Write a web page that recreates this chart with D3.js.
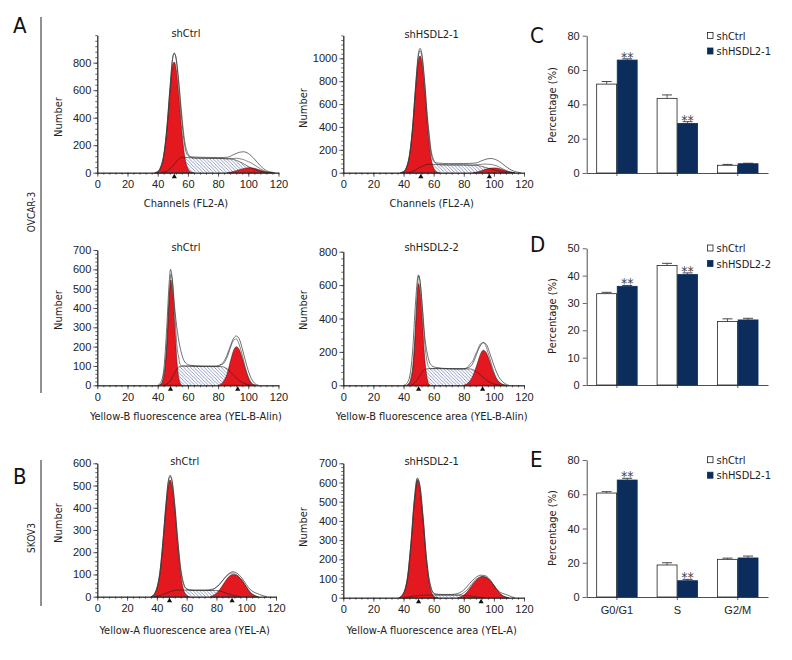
<!DOCTYPE html>
<html><head><meta charset="utf-8">
<script src="https://cdn.jsdelivr.net/npm/d3@7"></script>
<style>
body{margin:0;background:#fff}
svg{font-family:"Liberation Sans Narrow","DejaVu Sans Condensed","Roboto Condensed",sans-serif;font-stretch:condensed}
</style></head><body>
<svg id="fig" width="792" height="660"></svg>
<script>
// ---------- histogram data: [channel, count] ----------
const h1G1 = [[38,0],[40,6],[42,38],[44,120],[46,300],[48,560],[50,790],[51,805],[52,770],[54,560],[56,300],[58,110],[60,30],[62,5],[64,0]];
const h1S  = [[42,0],[46,10],[50,50],[54,100],[56,112],[58,112],[62,108],[70,105],[80,104],[88,100],[92,90],[96,70],[100,45],[104,25],[108,10],[112,2],[116,0]];
const h1G2 = [[86,0],[90,8],[94,22],[98,33],[101,36],[104,32],[108,18],[112,5],[116,0]];
const h1Env = [[38,0],[40,8],[42,45],[44,130],[46,320],[48,600],[50,840],[51,870],[52,840],[54,640],[56,380],[58,190],[60,125],[62,115],[70,112],[80,110],[86,112],[90,130],[94,148],[97,152],[100,140],[104,100],[108,50],[112,15],[116,3],[118,0]];
const h1Marks = [51];

const h2G1 = [[38,0],[40,8],[42,45],[44,150],[46,380],[48,720],[50,990],[51,1020],[52,980],[54,720],[56,390],[58,150],[60,40],[62,6],[64,0]];
const h2S  = [[42,0],[46,10],[50,40],[54,65],[57,75],[60,72],[70,68],[80,68],[88,65],[92,55],[96,40],[100,25],[104,12],[108,4],[112,0]];
const h2G2 = [[86,0],[90,10],[94,28],[98,40],[100,42],[103,38],[106,25],[110,8],[114,0]];
const h2Env = [[38,0],[40,10],[42,50],[44,160],[46,400],[48,760],[50,1050],[51,1087],[52,1050],[54,800],[56,450],[58,200],[60,100],[62,85],[70,80],[80,80],[88,85],[92,105],[96,122],[98,124],[102,110],[106,75],[110,35],[114,10],[118,0]];
const h2Marks = [51.5, 97];

const h3G1 = [[41,0],[43,15],[45,100],[46.5,270],[47.5,430],[48.7,545],[50,470],[51.5,280],[53,100],[54.5,20],[56,0]];
const h3S  = [[44,0],[48,20],[51,60],[54,95],[57,100],[65,98],[75,97],[82,97],[86,85],[90,55],[94,25],[98,8],[102,0]];
const h3G2 = [[80,0],[83,15],[86,60],[88,120],[90,175],[92,200],[94,185],[96,140],[98,85],[100,40],[102,12],[105,0]];
const h3Env = [[40,0],[42,15],[44,80],[46,300],[47.5,520],[48.5,600],[49.5,560],[51,420],[53,280],[55,190],[57,135],[59,112],[62,103],[70,100],[78,100],[82,108],[85,140],[88,200],[90,240],[92,255],[94,240],[96,190],[98,130],[100,75],[102,35],[104,12],[107,0]];
const h3Marks = [48.5, 93];

const h4G1 = [[42,0],[44,15],[46,90],[47.5,260],[48.8,480],[50,610],[51,560],[52.5,380],[54,170],[55.5,50],[57,5],[58,0]];
const h4S  = [[45,0],[48,20],[51,60],[54,95],[57,100],[65,100],[75,98],[84,98],[88,85],[92,55],[96,25],[100,8],[104,0]];
const h4G2 = [[80,0],[83,15],[86,55],[89,130],[91,185],[93,210],[95,195],[97,150],[99,95],[101,50],[104,15],[108,0]];
const h4Env = [[40,0],[42,10],[44,50],[46,200],[48,500],[49.5,650],[50,660],[51,620],[52.5,470],[54,300],[56,180],[58,125],[61,108],[70,100],[80,100],[84,110],[87,150],[90,220],[93,255],[95,245],[97,200],[100,120],[103,55],[106,20],[110,0]];
const h4Marks = [50, 92.5];

const h5G1 = [[36,0],[38,8],[40,35],[42,100],[44,230],[46,390],[48,510],[48.8,525],[50,505],[52,390],[54,230],[56,100],[58,30],[60,5],[62,0]];
const h5S  = [[38,0],[42,5],[46,15],[50,25],[54,30],[58,30],[66,28],[74,28],[80,28],[84,22],[88,12],[92,5],[96,0]];
const h5G2 = [[76,0],[79,10],[82,30],[85,60],[88,88],[91,100],[94,95],[97,75],[100,45],[103,18],[106,4],[108,0]];
const h5Env = [[36,0],[38,10],[40,40],[42,110],[44,245],[46,410],[48,530],[49,540],[50,525],[52,410],[54,250],[56,120],[58,55],[60,35],[64,30],[72,30],[78,35],[82,55],[85,80],[88,102],[91,112],[94,105],[97,85],[100,55],[103,30],[106,18],[109,10],[112,3],[114,0]];
const h5Marks = [48.5, 90.5];

const h6G1 = [[37,0],[39,10],[41,40],[43,120],[45,280],[47,480],[49,610],[49.3,613],[51,560],[53,400],[55,210],[57,80],[59,20],[61,3],[63,0]];
const h6S  = [[40,0],[44,5],[48,10],[52,13],[58,14],[66,14],[74,14],[80,12],[85,8],[90,3],[94,0]];
const h6G2 = [[76,0],[79,8],[82,28],[85,60],[88,90],[91,107],[93,110],[96,100],[99,75],[102,42],[105,15],[108,3],[110,0]];
const h6Env = [[37,0],[39,12],[41,45],[43,130],[45,295],[47,500],[49,620],[51,580],[53,420],[55,225],[57,95],[59,35],[61,20],[66,17],[72,17],[76,22],[80,40],[84,75],[88,105],[91,117],[94,115],[97,98],[100,65],[103,35],[106,22],[109,14],[112,4],[114,0]];
const h6Marks = [50, 91.5];

const histTitles = ["shCtrl","shHSDL2-1","shCtrl","shHSDL2-2","shCtrl","shHSDL2-1"];
const histXLabels = ["Channels (FL2-A)","Yellow-B fluorescence area (YEL-B-Alin)","Yellow-A fluorescence area (YEL-A)"];
const xTicks = [0,20,40,60,80,100,120];

// ---------- bar chart data ----------
const categories = ["G0/G1","S","G2/M"];
const cCtrl = [51.8, 43.5, 4.5],  cCtrlErr = [1.5, 2.0, 0.5];
const cSh   = [65.8, 28.9, 5.4],  cShErr   = [0.7, 1.0, 0.3];
const dCtrl = [33.4, 43.7, 23.2], dCtrlErr = [0.5, 0.8, 1.0];
const dSh   = [36.1, 40.4, 23.8], dShErr   = [0.3, 0.6, 0.6];
const eCtrl = [60.7, 18.7, 22.0], eCtrlErr = [0.8, 1.3, 0.7];
const eSh   = [68.3, 9.5, 22.8],  eShErr   = [1.0, 0.8, 1.1];
const starsC = [true, true, false], starsD = [true, true, false], starsE = [true, true, false];

// ---------- drawing ----------
const RED = "#e3191f", NAVY = "#0c2d5b", INK = "#222";
const svg = d3.select("#fig");
const defs = svg.append("defs");
const hp = defs.append("pattern").attr("id","hatch").attr("patternUnits","userSpaceOnUse")
  .attr("width",3.4).attr("height",3.4);
hp.append("rect").attr("width",3.4).attr("height",3.4).attr("fill","#fff");
hp.append("path").attr("d","M-1,-1L4.4,4.4M-1,2.4L1,4.4M2.4,-1L4.4,1")
  .attr("stroke","#4b5a9e").attr("stroke-width",0.6);

function interp(arr, xv){
  if (xv <= arr[0][0] || xv >= arr[arr.length-1][0]) return 0;
  for (let i=1;i<arr.length;i++){
    if (xv <= arr[i][0]){
      const [x0,y0]=arr[i-1],[x1,y1]=arr[i];
      return y0 + (y1-y0)*(xv-x0)/(x1-x0);
    }
  }
  return 0;
}

function hist(o){
  const x = d3.scaleLinear().domain([0,120]).range([o.x0,o.x1]);
  const y = d3.scaleLinear().domain([0,o.yMax]).range([o.y0,o.yTop]);
  const g = svg.append("g");
  const area = d3.area().x(d=>x(d[0])).y0(y(0)).y1(d=>y(d[1])).curve(d3.curveMonotoneX);
  const line = d3.line().x(d=>x(d[0])).y(d=>y(d[1])).curve(d3.curveMonotoneX);
  const xs = Array.from(new Set([...o.g1,...o.s,...o.g2].map(d=>d[0]))).sort((a,b)=>a-b);
  const fit = xs.map(v=>[v, interp(o.g1,v)+interp(o.s,v)+interp(o.g2,v)]);

  g.append("path").datum(o.s).attr("d",area).attr("fill","url(#hatch)");
  g.append("path").datum(o.g1).attr("d",area).attr("fill",RED).attr("stroke","#3a0a0a").attr("stroke-width",0.5);
  g.append("path").datum(o.g2).attr("d",area).attr("fill",RED).attr("stroke","#3a0a0a").attr("stroke-width",0.5);
  g.append("path").datum(o.s).attr("d",line).attr("fill","none").attr("stroke","#222").attr("stroke-width",0.6);
  g.append("path").datum(fit).attr("d",line).attr("fill","none").attr("stroke","#333").attr("stroke-width",0.6);
  g.append("path").datum(o.env).attr("d",line).attr("fill","none").attr("stroke","#333").attr("stroke-width",0.7);

  const minorX = d3.range(0,121,4);
  g.append("g").attr("transform",`translate(0,${o.y0})`)
    .call(d3.axisBottom(x).tickValues(minorX).tickSize(2).tickSizeOuter(0).tickFormat(""));
  g.append("g").attr("transform",`translate(0,${o.y0})`)
    .call(d3.axisBottom(x).tickValues(xTicks).tickSize(4).tickSizeOuter(0).tickPadding(4).tickFormat(d3.format("d")));
  const minorY = d3.range(0,o.yMax+0.1,o.minor);
  g.append("g").attr("transform",`translate(${o.x0},0)`)
    .call(d3.axisLeft(y).tickValues(minorY).tickSize(2).tickSizeOuter(0).tickFormat(""));
  g.append("g").attr("transform",`translate(${o.x0},0)`)
    .call(d3.axisLeft(y).tickValues(d3.range(0,o.yLabMax+0.1,o.step)).tickSize(4).tickSizeOuter(0).tickPadding(2).tickFormat(d3.format("d")));
  g.selectAll(".domain").attr("stroke",INK).attr("stroke-width",0.8);
  g.selectAll(".tick line").attr("stroke",INK).attr("stroke-width",0.7);
  g.selectAll(".tick text").attr("font-size",11).attr("fill",INK).attr("font-family",null);

  g.selectAll("path.mk").data(o.marks).join("path").attr("class","mk")
    .attr("d", d=>{const cx=x(d), cy=o.y0+1; return `M${cx-2.6},${cy+4.5}L${cx+2.6},${cy+4.5}L${cx},${cy}Z`;})
    .attr("fill","#111");

  g.append("text").attr("x",(o.x0+o.x1)/2 - 2).attr("y",o.titleY).attr("text-anchor","middle")
    .attr("font-size",11).attr("fill",INK).text(o.title);
  g.append("text").attr("x",(o.x0+o.x1)/2 - 2).attr("y",o.xLabY).attr("text-anchor","middle")
    .attr("font-size",11).attr("fill",INK).text(o.xlabel);
  g.append("text").attr("transform",`translate(${o.yLabX},${o.yLabCY}) rotate(-90)`)
    .attr("text-anchor","middle").attr("font-size",11).attr("fill",INK).text("Number");
}

const L = [97.3, 278.5], R = [343.3, 524];
hist({x0:L[0],x1:L[1],y0:172.7,yTop:35.2,yMax:1000,yLabMax:800,step:200,minor:40,
  g1:h1G1,s:h1S,g2:h1G2,env:h1Env,marks:h1Marks,title:histTitles[0],titleY:37,xlabel:histXLabels[0],xLabY:207,yLabX:62,yLabCY:117});
hist({x0:R[0],x1:R[1],y0:172.7,yTop:35.4,yMax:1200,yLabMax:1000,step:200,minor:40,
  g1:h2G1,s:h2S,g2:h2G2,env:h2Env,marks:h2Marks,title:histTitles[1],titleY:38,xlabel:histXLabels[0],xLabY:207,yLabX:307,yLabCY:108});
hist({x0:L[0],x1:L[1],y0:385.3,yTop:250,yMax:700,yLabMax:700,step:100,minor:20,
  g1:h3G1,s:h3S,g2:h3G2,env:h3Env,marks:h3Marks,title:histTitles[2],titleY:251,xlabel:histXLabels[1],xLabY:420,yLabX:62,yLabCY:310});
hist({x0:R[0],x1:R[1],y0:385.3,yTop:251.7,yMax:800,yLabMax:800,step:200,minor:40,
  g1:h4G1,s:h4S,g2:h4G2,env:h4Env,marks:h4Marks,title:histTitles[3],titleY:251,xlabel:histXLabels[1],xLabY:420,yLabX:307,yLabCY:310});
hist({x0:L[0],x1:L[1]-2.5,y0:596.7,yTop:463.3,yMax:600,yLabMax:600,step:100,minor:20,
  g1:h5G1,s:h5S,g2:h5G2,env:h5Env,marks:h5Marks,title:histTitles[4],titleY:465,xlabel:histXLabels[2],xLabY:634,yLabX:62,yLabCY:523});
hist({x0:R[0],x1:R[1],y0:597.7,yTop:463.3,yMax:700,yLabMax:700,step:100,minor:20,
  g1:h6G1,s:h6S,g2:h6G2,env:h6Env,marks:h6Marks,title:histTitles[5],titleY:465,xlabel:histXLabels[2],xLabY:634,yLabX:307,yLabCY:527});

function bars(o){
  const x = d3.scaleBand().domain(categories).range([586.7,768]).paddingInner(0.33).paddingOuter(0.165);
  const sub = d3.scaleBand().domain([0,1]).range([0,x.bandwidth()]).paddingInner(0.03);
  const y = d3.scaleLinear().domain([0,o.max]).range([o.y0,o.yTop]);
  const g = svg.append("g");
  const series = [{v:o.ctrl,e:o.ctrlErr,fill:"#fff"},{v:o.sh,e:o.shErr,fill:NAVY}];
  series.forEach((s,si)=>{
    categories.forEach((c,i)=>{
      const bx = x(c)+sub(si), bw = sub.bandwidth(), cx = bx+bw/2;
      g.append("line").attr("x1",cx).attr("x2",cx).attr("y1",y(s.v[i])).attr("y2",y(s.v[i]+s.e[i]))
        .attr("stroke","#333").attr("stroke-width",0.8);
      g.append("line").attr("x1",cx-5).attr("x2",cx+5).attr("y1",y(s.v[i]+s.e[i])).attr("y2",y(s.v[i]+s.e[i]))
        .attr("stroke","#333").attr("stroke-width",0.9);
      g.append("rect").attr("x",bx).attr("y",y(s.v[i])).attr("width",bw).attr("height",o.y0-y(s.v[i]))
        .attr("fill",s.fill).attr("stroke",si===0?"#222":NAVY).attr("stroke-width",0.8);
      if (si===1 && o.stars[i]){
        g.append("text").attr("x",cx).attr("y",y(s.v[i]+s.e[i])+3).attr("text-anchor","middle")
          .attr("font-size",14).attr("fill","#444").text("**");
      }
    });
  });
  g.append("g").attr("transform",`translate(586.7,0)`)
    .call(d3.axisLeft(y).tickValues(d3.range(0,o.max+0.1,o.step)).tickSize(4).tickSizeOuter(0).tickPadding(3).tickFormat(d3.format("d")));
  g.append("g").attr("transform",`translate(0,${o.y0})`)
    .call(d3.axisBottom(x).tickSize(3).tickSizeOuter(0).tickPadding(6).tickFormat(o.labels? d=>d : ""));
  g.selectAll(".domain").attr("stroke",INK).attr("stroke-width",0.8);
  g.selectAll(".tick line").attr("stroke",INK).attr("stroke-width",0.7);
  g.selectAll(".tick text").attr("font-size",11).attr("fill",INK).attr("font-family",null);
  g.append("text").attr("transform",`translate(556,${o.labCY}) rotate(-90)`).attr("text-anchor","middle")
    .attr("font-size",11).attr("fill",INK).text("Percentage (%)");
  const leg = [["shCtrl","#fff"],[o.shName,NAVY]];
  leg.forEach((d,i)=>{
    const ly = o.legY + i*15.5;
    g.append("rect").attr("x",707.5).attr("y",ly-3).attr("width",5.5).attr("height",6)
      .attr("fill",d[1]).attr("stroke",i===0?"#222":NAVY).attr("stroke-width",0.8);
    g.append("text").attr("x",716.5).attr("y",ly+4).attr("font-size",11).attr("fill",INK).text(d[0]);
  });
  g.append("text").attr("x",530).attr("y",o.letY).attr("font-size",22).attr("fill","#111").text(o.letter);
}
bars({ctrl:cCtrl,ctrlErr:cCtrlErr,sh:cSh,shErr:cShErr,max:80,step:20,y0:173,yTop:35.7,stars:starsC,labels:false,
  shName:"shHSDL2-1",legY:35.5,labCY:105,letter:"C",letY:43});
bars({ctrl:dCtrl,ctrlErr:dCtrlErr,sh:dSh,shErr:dShErr,max:50,step:10,y0:385,yTop:248.3,stars:starsD,labels:false,
  shName:"shHSDL2-2",legY:248,labCY:316,letter:"D",letY:252});
bars({ctrl:eCtrl,ctrlErr:eCtrlErr,sh:eSh,shErr:eShErr,max:80,step:20,y0:597,yTop:460,stars:starsE,labels:true,
  shName:"shHSDL2-1",legY:459.7,labCY:528,letter:"E",letY:467});

svg.append("line").attr("x1",41).attr("x2",41).attr("y1",17).attr("y2",393).attr("stroke",INK).attr("stroke-width",1);
svg.append("line").attr("x1",41).attr("x2",41).attr("y1",460).attr("y2",606).attr("stroke",INK).attr("stroke-width",1);
svg.append("text").attr("x",13).attr("y",33).attr("font-size",22).attr("fill","#111").text("A");
svg.append("text").attr("x",13).attr("y",484).attr("font-size",22).attr("fill","#111").text("B");
svg.append("text").attr("transform","translate(35,212) rotate(-90)").attr("text-anchor","middle")
  .attr("font-size",10).attr("fill",INK).text("OVCAR-3");
svg.append("text").attr("transform","translate(35,538) rotate(-90)").attr("text-anchor","middle")
  .attr("font-size",10).attr("fill",INK).text("SKOV3");
</script></body></html>
